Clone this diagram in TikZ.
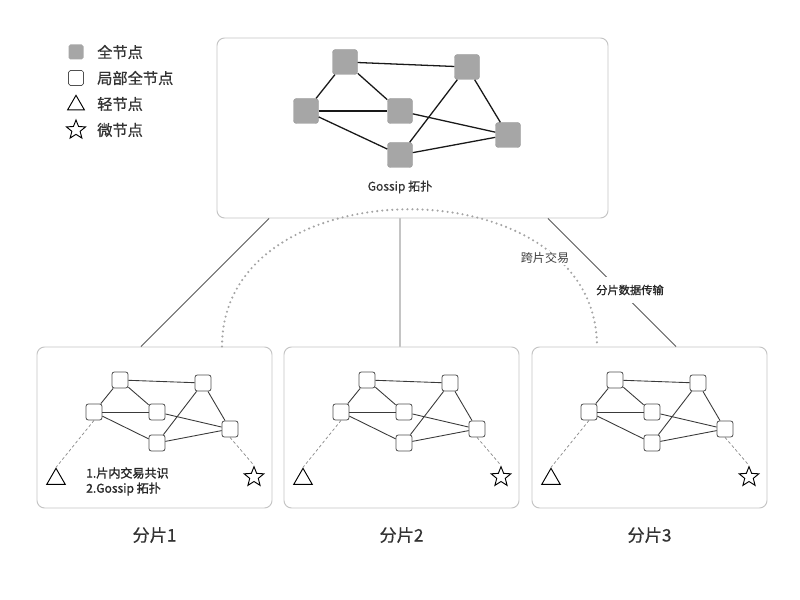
\documentclass[tikz,border=0pt]{standalone}
\usepackage{fontspec}
\setmainfont{Noto Sans CJK SC}
\newfontfamily\medfont[FakeBold=1.2]{Noto Sans CJK SC}
\newfontfamily\semifont[FakeBold=0.6]{Noto Sans CJK SC}
\usetikzlibrary{shapes.geometric,calc}
\definecolor{boxgray}{HTML}{C4C4C4}
\definecolor{fullgray}{HTML}{A6A6A6}
\definecolor{nodeborder}{HTML}{505050}
\definecolor{edgegray}{HTML}{3A3A3A}
\definecolor{linkgray}{HTML}{5A5A5A}
\definecolor{dotgray}{HTML}{A4A4A4}
\definecolor{dashgray}{HTML}{8A8A8A}
\definecolor{txt}{HTML}{333333}
\begin{document}
\begin{tikzpicture}[x=0.03cm,y=-0.03cm,
  panel/.style={draw=boxgray, line width=0.8pt, rounded corners=6.5pt, fill=white, inner sep=0pt},
  fullnode/.style={fill=fullgray, draw=fullgray!92!black, line width=0.4pt, rounded corners=2.5pt, minimum size=0.75cm, inner sep=0pt},
  partnode/.style={draw=nodeborder, fill=white, line width=0.7pt, rounded corners=2pt, minimum size=0.48cm, inner sep=0pt},
  legfull/.style={fill=fullgray, rounded corners=1.5pt, minimum size=0.45cm, inner sep=0pt},
  legpart/.style={draw=nodeborder, fill=white, line width=0.6pt, rounded corners=1.5pt, minimum size=0.45cm, inner sep=0pt},
  lightnode/.style={regular polygon, regular polygon sides=3, draw=black, line width=0.8pt, minimum size=0.64cm, inner sep=0pt},
  micronode/.style={star, star points=5, star point ratio=2.3, draw=black, line width=0.8pt, minimum size=0.62cm, inner sep=0pt},
  topedge/.style={draw=black!90, line width=1.1pt},
  shardedge/.style={draw=edgegray, line width=0.75pt},
  linkline/.style={draw=linkgray, line width=0.7pt},
  dashlink/.style={draw=dashgray, line width=0.6pt, dash pattern=on 2.5pt off 2pt},
  arcdot/.style={draw=dotgray, line width=2pt, line cap=round, dash pattern=on 0pt off 4.3pt},
  legtext/.style={anchor=west, text=txt, font=\semifont\fontsize{13}{15}\selectfont, inner sep=0pt},
  smalltext/.style={text=txt, font=\semifont\fontsize{10.3}{12}\selectfont, inner sep=0pt},
  shardlabel/.style={text=txt, font=\semifont\fontsize{14.7}{17}\selectfont, inner sep=0pt}
]
\useasboundingbox[fill=white] (0,0) rectangle (800,600);

% legend
\node[legfull] (lg1) at (76,52) {};
\node[legpart] (lg2) at (76,78) {};
\node[lightnode, minimum size=0.58cm] (lg3) at (76,105) {};
\node[micronode, minimum size=0.6cm] (lg4) at (76,130) {};
\node[legtext] (lt1) at (97,52) {全节点};
\node[legtext] (lt2) at (97,78) {局部全节点};
\node[legtext] (lt3) at (97,104) {轻节点};
\node[legtext] (lt4) at (97,130) {微节点};

% top panel
\node[panel, minimum width=11.73cm, minimum height=5.4cm] (top) at (412.5,128) {};
\node[fullnode] (tA) at (345,62) {};
\node[fullnode] (tB) at (467,67) {};
\node[fullnode] (tC) at (306,111) {};
\node[fullnode] (tD) at (400,111) {};
\node[fullnode] (tE) at (508,135) {};
\node[fullnode] (tF) at (400,155) {};
\draw[topedge] (tA) -- (tB);
\draw[topedge] (tA) -- (tC);
\draw[topedge] (tA) -- (tD);
\draw[topedge] (tC) -- (tD);
\draw[topedge] (tC) -- (tF);
\draw[topedge] (tD) -- (tE);
\draw[topedge] (tB) -- (tF);
\draw[topedge] (tB) -- (tE);
\draw[topedge] (tF) -- (tE);
\node[smalltext] (glabel) at (400,187) {Gossip 拓扑};

% shards
\foreach \i/\ox in {1/37,2/284,3/532}{
  \node[panel, minimum width=7.05cm, minimum height=4.83cm] (s\i) at (\ox+117.5,427.5) {};
  \node[partnode] (s\i-a) at (\ox+83,380) {};
  \node[partnode] (s\i-b) at (\ox+166,383) {};
  \node[partnode] (s\i-c) at (\ox+57,412) {};
  \node[partnode] (s\i-d) at (\ox+120,412) {};
  \node[partnode] (s\i-e) at (\ox+193,429) {};
  \node[partnode] (s\i-f) at (\ox+120,443) {};
  \draw[shardedge] (s\i-a) -- (s\i-b);
  \draw[shardedge] (s\i-a) -- (s\i-c);
  \draw[shardedge] (s\i-a) -- (s\i-d);
  \draw[shardedge] (s\i-c) -- (s\i-d);
  \draw[shardedge] (s\i-c) -- (s\i-f);
  \draw[shardedge] (s\i-d) -- (s\i-e);
  \draw[shardedge] (s\i-b) -- (s\i-f);
  \draw[shardedge] (s\i-b) -- (s\i-e);
  \draw[shardedge] (s\i-f) -- (s\i-e);
  \node[lightnode] (s\i-l) at (\ox+19,479) {};
  \node[micronode] (s\i-m) at (\ox+217,477) {};
  \draw[dashlink] (s\i-c.south) -- (s\i-l.north);
  \draw[dashlink] (s\i-e.south) -- (s\i-m.north);
  \node[shardlabel] (sl\i) at (\ox+117.5,535) {分片\i};
}
\node[smalltext, anchor=west, text=black!85, font=\medfont\fontsize{10.3}{12}\selectfont] (st1) at (86,473) {1.片内交易共识};
\node[smalltext, anchor=west, text=black!85, font=\medfont\fontsize{10.3}{12}\selectfont] (st2) at (86,489) {2.Gossip 拓扑};

% connectors top -> shards
\draw[linkline] ([xshift=-4.305cm]top.south) -- ([xshift=-0.405cm]s1.north);
\draw[linkline] ([xshift=-0.375cm]top.south) -- ([xshift=-0.045cm]s2.north);
\draw[linkline] ([xshift=4.065cm]top.south) -- ([xshift=0.795cm]s3.north);
\node[smalltext, text=black!85, font=\medfont\fontsize{9.6}{11}\selectfont, fill=white, inner xsep=1pt, inner ysep=7pt] (datalabel) at (630,290) {分片数据传输};

% cross-shard dotted arc
\draw[arcdot] ([xshift=2.025cm]s1.north) .. controls +(0,-183) and +(0,-183) .. ([xshift=-1.575cm]s3.north);
\node[smalltext, text=black!75, font=\fontsize{10.3}{12}\selectfont, fill=white, inner sep=1.5pt] (xlabel) at (545,258) {跨片交易};
\end{tikzpicture}
\end{document}
